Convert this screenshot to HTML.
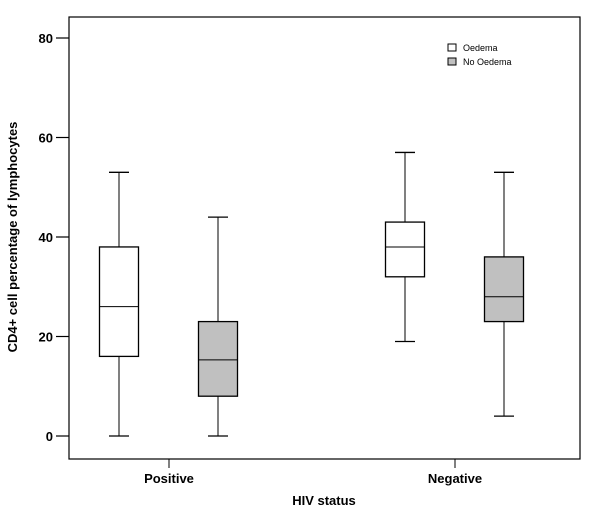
<!DOCTYPE html>
<html><head><meta charset="utf-8"><style>
body{margin:0;background:#fff}
svg{display:block;font-family:"Liberation Sans",Arial,sans-serif}
</style></head><body>
<svg id="chart" width="600" height="514">
<rect x="69" y="17" width="511" height="442" fill="none" stroke="#000" stroke-width="1.2"/>
<g id="yaxis"></g>
<g id="xaxis"></g>
<g id="boxes"></g>
<text x="17" y="237" transform="rotate(-90 17 237)" text-anchor="middle" font-size="13" font-weight="bold">CD4+ cell percentage of lymphocytes</text>
<text x="324" y="505" text-anchor="middle" font-size="13" font-weight="bold">HIV status</text>
<g>
<rect x="448" y="44" width="8" height="7" fill="#fff" stroke="#000"/>
<text x="463" y="51" font-size="9">Oedema</text>
<rect x="448" y="58" width="8" height="7" fill="#c0c0c0" stroke="#000"/>
<text x="463" y="65" font-size="9">No Oedema</text>
</g>
</svg>
<script>
const categories=["Positive","Negative"];
const yTicks=[0,20,40,60,80];
const oedemaStats=[[0,16,26,38,53],[19,32,38,43,57]];
const noOedemaStats=[[0,8,15.3,23,44],[4,23,28,36,53]];
const NS="http://www.w3.org/2000/svg";
function y(v){return 436-v*(398/80);}
function xCat(i){return 169+i*286;}
function mk(tag,attrs,parent){const e=document.createElementNS(NS,tag);for(const k in attrs)e.setAttribute(k,attrs[k]);parent.appendChild(e);return e;}
const ya=document.getElementById('yaxis'),xa=document.getElementById('xaxis'),bx=document.getElementById('boxes');
yTicks.forEach(t=>{
 const l=mk('line',{x1:56,x2:69,y1:y(t),y2:y(t),stroke:'#000','stroke-width':1.2},ya);
 
 
 const tx=mk('text',{x:53,y:y(t)+5,'text-anchor':'end','font-size':13,'font-weight':'bold'},ya);
 tx.textContent=t;
 
 
});
categories.forEach((c,i)=>{
 const l=mk('line',{x1:xCat(i),x2:xCat(i),y1:459,y2:468,stroke:'#000','stroke-width':1},xa);
 
 
 const tx=mk('text',{x:xCat(i),y:483,'text-anchor':'middle','font-size':13,'font-weight':'bold'},xa);
 tx.textContent=c;
 
 
});
function box(cx,s,fill,name){
 const g=mk('g',{},bx);
 
 
 const [mn,q1,md,q3,mx]=s;
 mk('line',{x1:cx,x2:cx,y1:y(mx),y2:y(q3),stroke:'#000'},g);
 mk('line',{x1:cx,x2:cx,y1:y(q1),y2:y(mn),stroke:'#000'},g);
 mk('line',{x1:cx-10,x2:cx+10,y1:y(mx),y2:y(mx),stroke:'#000','stroke-width':1.3},g);
 mk('line',{x1:cx-10,x2:cx+10,y1:y(mn),y2:y(mn),stroke:'#000','stroke-width':1.3},g);
 mk('rect',{x:cx-19.5,y:y(q3),width:39,height:y(q1)-y(q3),fill:fill,stroke:'#000','stroke-width':1.3},g);
 mk('line',{x1:cx-19.5,x2:cx+19.5,y1:y(md),y2:y(md),stroke:'#000'},g);
}
categories.forEach((c,i)=>{
 box(xCat(i)-50,oedemaStats[i],'#fff','box-oedema-'+c.toLowerCase());
 box(xCat(i)+49,noOedemaStats[i],'#c0c0c0','box-no-oedema-'+c.toLowerCase());
});
</script>
</body></html>
